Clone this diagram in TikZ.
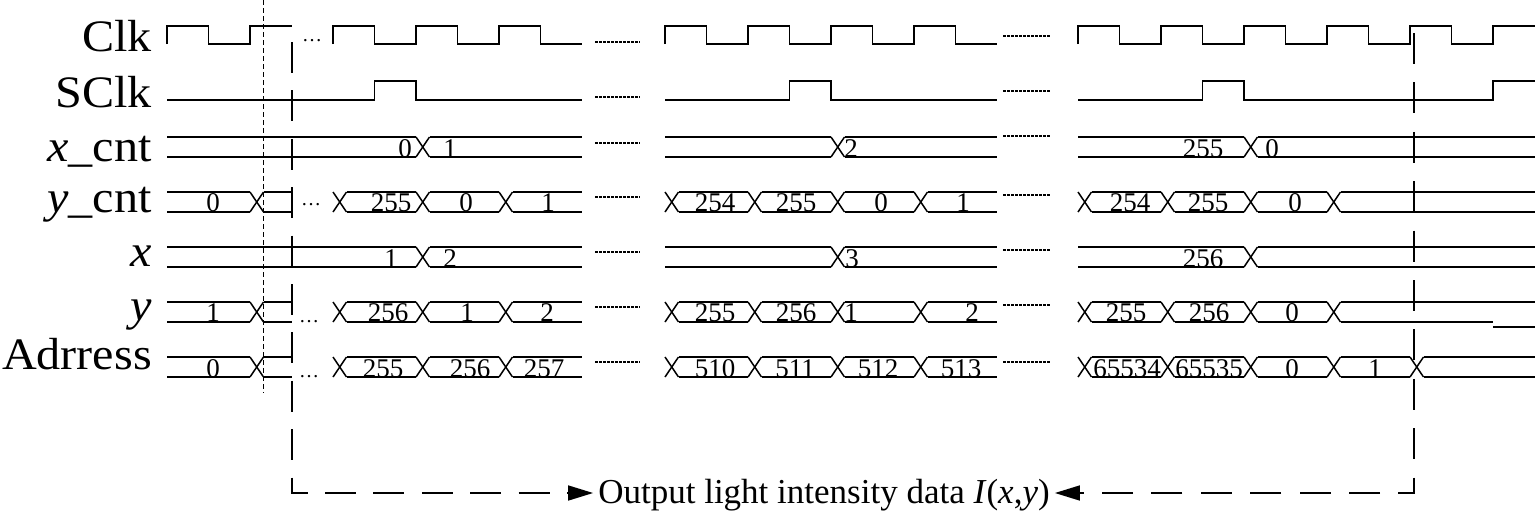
\documentclass[tikz,border=0pt]{standalone}
\usepackage{fontspec}
\setmainfont{Liberation Serif}
\newfontfamily\lblfam[FakeStretch=1.07]{Liberation Serif}
\newfontfamily\numfam{Liberation Serif}
\usetikzlibrary{arrows.meta}
\newcommand\bseg[3]{\draw[busln] (#2,#1) -- (#3,#1) (#2,#1) ++(0,20) -- ++({#3-#2},0);}
\newcommand\bx[2]{\draw[busln] (#2,#1) -- ++(13.5,20) ++(-13.5,0) -- ++(13.5,-20);}
\begin{document}
\begin{tikzpicture}[x=1pt,y=-1pt,
  wave/.style={line width=1.5pt},
  busln/.style={line width=1.5pt},
  num/.style={font=\numfam\fontsize{27pt}{27pt}\selectfont, inner sep=0pt, anchor=base},
  lbl/.style={font=\lblfam\fontsize{45pt}{45pt}\selectfont, inner sep=0pt, anchor=base east},
  dotsn/.style={font=\fontsize{20pt}{20pt}\selectfont, inner sep=0pt, anchor=base},
  sepline/.style={line width=2.6pt, dash pattern=on 2.6pt off 1.4pt},
  longdashl/.style={line width=1.6pt, dash pattern=on 31pt off 17.4pt},
  longdashr/.style={line width=1.6pt, dash pattern=on 31pt off 18.4pt},
  tip/.style={-{Triangle[length=25pt,width=15pt]}},
  shortdash/.style={line width=1.2pt, dash pattern=on 5pt off 3pt}]
\useasboundingbox (0,0) rectangle (1535,520);

% signal names
\node[lbl] (lclk) at (152,51.7) {Clk};
\node[lbl] (lsclk) at (152,107.7) {SClk};
\node[lbl] (lxc) at (152,161.7) {\textit{x}\_cnt};
\node[lbl] (lyc) at (152,212) {\textit{y}\_cnt};
\node[lbl] (lx) at (152,266.7) {\textit{x}};
\node[lbl] (ly) at (152,320) {\textit{y}};
\node[lbl] (ladr) at (152,369) {Adrress};

% Clk
\draw[wave] (167,44) -- (167,26) -- (208.5,26) -- (208.5,44) -- (250,44) -- (250,26) -- (291.5,26);
\draw[wave] (333,44) -- (333,26) -- (374.5,26) -- (374.5,44) -- (416,44) -- (416,26) -- (457.5,26) -- (457.5,44) -- (499,44) -- (499,26) -- (540.5,26) -- (540.5,44) -- (582,44);
\draw[wave] (665,44) -- (665,26) -- (706.5,26) -- (706.5,44) -- (748,44) -- (748,26) -- (789.5,26) -- (789.5,44) -- (831,44) -- (831,26) -- (872.5,26) -- (872.5,44) -- (914,44) -- (914,26) -- (955.5,26) -- (955.5,44) -- (997,44);
\draw[wave] (1078,44) -- (1078,26) -- (1119.5,26) -- (1119.5,44) -- (1161,44) -- (1161,26) -- (1202.5,26) -- (1202.5,44) -- (1244,44) -- (1244,26) -- (1285.5,26) -- (1285.5,44) -- (1327,44) -- (1327,26) -- (1368.5,26) -- (1368.5,44) -- (1410,44) -- (1410,26) -- (1451.5,26) -- (1451.5,44) -- (1493,44) -- (1493,26) -- (1535,26);
\node[dotsn] (cdots) at (312,41) {…};

% SClk
\draw[wave] (167,100) -- (374.5,100) -- (374.5,81) -- (416,81) -- (416,100) -- (582,100);
\draw[wave] (665,100) -- (789.5,100) -- (789.5,81) -- (831,81) -- (831,100) -- (997,100);
\draw[wave] (1078,100) -- (1202.5,100) -- (1202.5,81) -- (1244,81) -- (1244,100) -- (1493,100) -- (1493,81) -- (1535,81);

% x_cnt
\bseg{137}{167}{416} \bx{137}{416} \bseg{137}{429.5}{582}
\bseg{137}{665}{831} \bx{137}{831} \bseg{137}{844.5}{997}
\bseg{137}{1078}{1244} \bx{137}{1244} \bseg{137}{1257.5}{1535}
\foreach \p/\t [count=\i] in {405/0, 450/1, 851/2, 1203/255, 1272/0}
  \node[num] (xc\i) at (\p,157) {\t};

% y_cnt
\bseg{192}{167}{250} \bx{192}{250} \bseg{192}{263.5}{291.5}
\bx{192}{333} \bseg{192}{346.5}{416} \bx{192}{416} \bseg{192}{429.5}{499} \bx{192}{499} \bseg{192}{512.5}{582}
\bx{192}{665} \bseg{192}{678.5}{748} \bx{192}{748} \bseg{192}{761.5}{831} \bx{192}{831} \bseg{192}{844.5}{914} \bx{192}{914} \bseg{192}{927.5}{997}
\bx{192}{1078} \bseg{192}{1091.5}{1161} \bx{192}{1161} \bseg{192}{1174.5}{1244} \bx{192}{1244} \bseg{192}{1257.5}{1327} \bx{192}{1327} \bseg{192}{1340.5}{1535}
\foreach \p/\t [count=\i] in {213/0, 391/255, 466/0, 548/1, 715/254, 796/255, 881/0, 963/1, 1130/254, 1208/255, 1295/0}
  \node[num] (yc\i) at (\p,211) {\t};
\node[dotsn] (ycdots) at (311,205) {…};

% x
\bseg{247}{167}{416} \bx{247}{416} \bseg{247}{429.5}{582}
\bseg{247}{665}{831} \bx{247}{831} \bseg{247}{844.5}{997}
\bseg{247}{1078}{1244} \bx{247}{1244} \bseg{247}{1257.5}{1535}
\foreach \p/\t [count=\i] in {391/1, 450/2, 852/3, 1203/256}
  \node[num] (xv\i) at (\p,267) {\t};

% y
\bseg{302}{167}{250} \bx{302}{250} \bseg{302}{263.5}{291.5}
\bx{302}{333} \bseg{302}{346.5}{416} \bx{302}{416} \bseg{302}{429.5}{499} \bx{302}{499} \bseg{302}{512.5}{582}
\bx{302}{665} \bseg{302}{678.5}{748} \bx{302}{748} \bseg{302}{761.5}{831} \bx{302}{831} \bseg{302}{844.5}{914} \bx{302}{914} \bseg{302}{927.5}{997}
\bx{302}{1078} \bseg{302}{1091.5}{1161} \bx{302}{1161} \bseg{302}{1174.5}{1244} \bx{302}{1244} \bseg{302}{1257.5}{1327} \bx{302}{1327}
\draw[busln] (1340.5,302) -- (1535,302) (1340.5,322) -- (1493,322) (1493,327) -- (1535,327);
\foreach \p/\t [count=\i] in {213/1, 388/256, 467/1, 547/2, 715/255, 796/256, 851/1, 972/2, 1126/255, 1209/256, 1292/0}
  \node[num] (yv\i) at (\p,321) {\t};
\node[dotsn] (yvdots) at (309,322) {…};

% Adrress
\bseg{357}{167}{250} \bx{357}{250} \bseg{357}{263.5}{291.5}
\bx{357}{333} \bseg{357}{346.5}{416} \bx{357}{416} \bseg{357}{429.5}{499} \bx{357}{499} \bseg{357}{512.5}{582}
\bx{357}{665} \bseg{357}{678.5}{748} \bx{357}{748} \bseg{357}{761.5}{831} \bx{357}{831} \bseg{357}{844.5}{914} \bx{357}{914} \bseg{357}{927.5}{997}
\bx{357}{1078} \bseg{357}{1091.5}{1161} \bx{357}{1161} \bseg{357}{1174.5}{1244} \bx{357}{1244} \bseg{357}{1257.5}{1327} \bx{357}{1327} \bseg{357}{1340.5}{1410} \bx{357}{1410} \bseg{357}{1423.5}{1535}
\foreach \p/\t [count=\i] in {213/0, 383/255, 470/256, 544/257, 715/510, 795/511, 878/512, 961/513, 1127/65534, 1209/65535, 1292/0, 1375/1}
  \node[num] (ad\i) at (\p,377) {\t};
\node[dotsn] (addots) at (309,377) {…};

% dotted separators
\foreach \yy in {42,97,143,197,252,307,362}
  \draw[sepline] (595,\yy) -- (640,\yy);
\foreach \yy in {36,91,136,195,250,305,362}
  \draw[sepline] (1003,\yy) -- (1050,\yy);

% short-dashed marker
\draw[shortdash] (263.5,0) -- (263.5,393);

% output note
\node[font=\fontsize{35pt}{35pt}\selectfont, inner xsep=5pt, inner ysep=0pt, anchor=base] (out) at (824,503) {Output light intensity data \textit{I}(\textit{x},\textit{y})};
\coordinate (ltop) at (292,42);
\coordinate (lbot) at (292,493);
\coordinate (rtop) at (1414,33);
\coordinate (rbot) at (1414,493);
\draw[longdashl, tip] (ltop) -- (lbot) -- (lbot -| out.west);
\draw[longdashr, tip] (rtop) -- (rbot) -- (rbot -| out.east);
\end{tikzpicture}
\end{document}
